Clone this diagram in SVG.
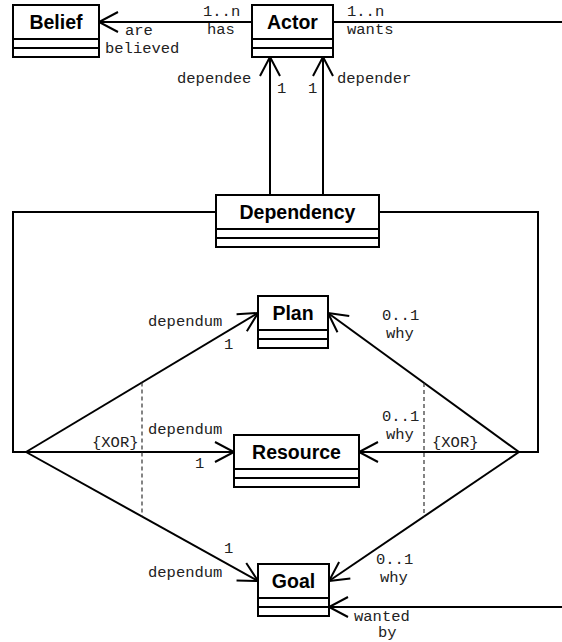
<svg xmlns="http://www.w3.org/2000/svg" width="562" height="642" viewBox="0 0 562 642">
<style>
.box{fill:#fff;stroke:#000;stroke-width:2}
.cls{font-family:"Liberation Sans",Arial,sans-serif;font-weight:bold;font-size:19.5px;text-anchor:middle;fill:#000}
.lbl{font-family:"Liberation Mono","Courier New",monospace;font-size:15.5px;fill:#222}
.ln{fill:none;stroke:#000;stroke-width:2}
.arr{fill:none;stroke:#000;stroke-width:2;marker-end:url(#open)}
.dash{fill:none;stroke:#333;stroke-width:1.2;stroke-dasharray:4 3}
</style>
<defs>
<marker id="open" markerUnits="userSpaceOnUse" markerWidth="30" markerHeight="30" refX="0" refY="0" viewBox="-25 -15 30 30" orient="auto" overflow="visible">
<path d="M-19,-10 L0,0 L-19,10" fill="none" stroke="#000" stroke-width="2"/>
</marker>
</defs>
<rect width="562" height="642" fill="#fff"/>
<g id="connectors">
<path class="arr" d="M252,22 L99,22"/>
<path class="ln" d="M333,22 L562,22"/>
<path class="arr" d="M270,195 L270,57"/>
<path class="arr" d="M323,195 L323,57"/>
<path class="ln" d="M216,212 L13,212 L13,452 L26,452"/>
<path class="ln" d="M379,212 L538,212 L538,452 L519,452"/>
<path class="arr" d="M26,452 L258,313"/>
<path class="arr" d="M26,452 L234,452"/>
<path class="arr" d="M26,452 L258,581"/>
<path class="arr" d="M519,452 L328,313"/>
<path class="arr" d="M519,452 L359,452"/>
<path class="arr" d="M519,452 L329,581"/>
<path class="arr" d="M562,607 L329,607"/>
<path class="dash" d="M142,382.5 L142,516.5"/>
<path class="dash" d="M424,383 L424,516.5"/>
<text class="lbl" x="125" y="35">are</text>
<text class="lbl" x="105" y="52.5">believed</text>
<text class="lbl" x="203" y="16">1..n</text>
<text class="lbl" x="207" y="34">has</text>
<text class="lbl" x="347" y="16">1..n</text>
<text class="lbl" x="347" y="34">wants</text>
<text class="lbl" x="177" y="83">dependee</text>
<text class="lbl" x="277" y="93">1</text>
<text class="lbl" x="308" y="93">1</text>
<text class="lbl" x="337" y="83">depender</text>
<text class="lbl" x="148" y="326">dependum</text>
<text class="lbl" x="224" y="349">1</text>
<text class="lbl" x="382" y="320">0..1</text>
<text class="lbl" x="386" y="337.5">why</text>
<text class="lbl" x="148" y="434">dependum</text>
<text class="lbl" x="92" y="447">{XOR}</text>
<text class="lbl" x="195" y="468">1</text>
<text class="lbl" x="382" y="421">0..1</text>
<text class="lbl" x="386" y="438.5">why</text>
<text class="lbl" x="432" y="447">{XOR}</text>
<text class="lbl" x="224" y="553">1</text>
<text class="lbl" x="148" y="576.5">dependum</text>
<text class="lbl" x="376" y="564">0..1</text>
<text class="lbl" x="380" y="582">why</text>
<text class="lbl" x="354" y="620.5">wanted</text>
<text class="lbl" x="378" y="637">by</text>
</g>
<g id="belief">
<rect class="box" x="13" y="5" width="86" height="52"/>
<path class="ln" d="M13,39 H99 M13,48 H99"/>
<text class="cls" x="56" y="29">Belief</text>
</g>
<g id="actor">
<rect class="box" x="252" y="5" width="81" height="52"/>
<path class="ln" d="M252,39 H333 M252,48 H333"/>
<text class="cls" x="292.5" y="29">Actor</text>
</g>
<g id="dependency">
<rect class="box" x="216" y="195" width="163" height="52"/>
<path class="ln" d="M216,229 H379 M216,238 H379"/>
<text class="cls" x="297.5" y="219">Dependency</text>
</g>
<g id="plan">
<rect class="box" x="258" y="296" width="70" height="52"/>
<path class="ln" d="M258,330 H328 M258,339 H328"/>
<text class="cls" x="293" y="320">Plan</text>
</g>
<g id="resource">
<rect class="box" x="234" y="435" width="125" height="52"/>
<path class="ln" d="M234,469 H359 M234,478 H359"/>
<text class="cls" x="296.5" y="459">Resource</text>
</g>
<g id="goal">
<rect class="box" x="258" y="564" width="71" height="52"/>
<path class="ln" d="M258,598 H329 M258,607 H329"/>
<text class="cls" x="293.5" y="588">Goal</text>
</g>
</svg>
